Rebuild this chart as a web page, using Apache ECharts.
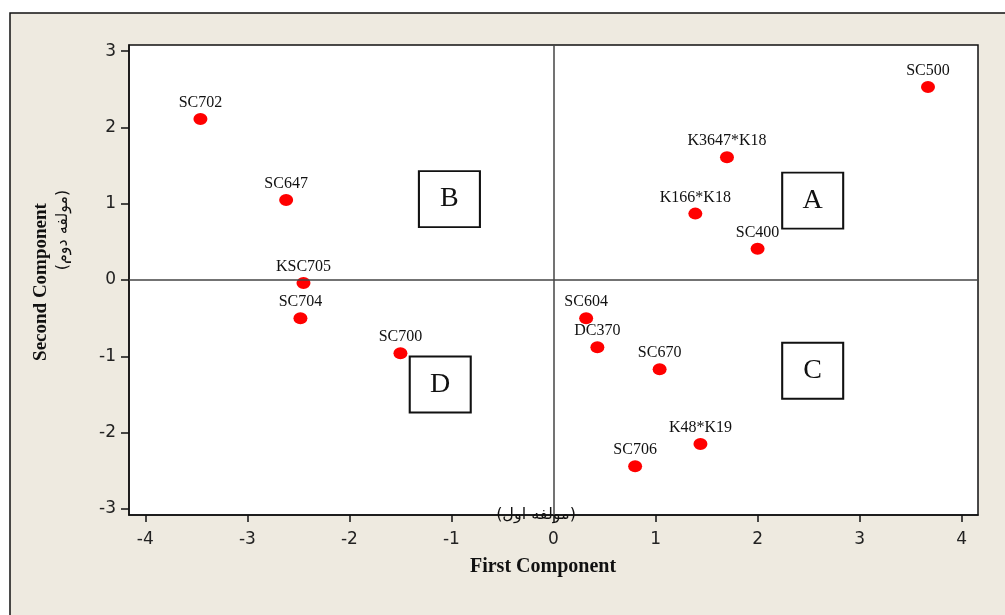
<!DOCTYPE html>
<html>
<head>
<meta charset="utf-8">
<script src="https://cdn.jsdelivr.net/npm/echarts@6/dist/echarts.min.js"></script>
<style>
  html, body { margin: 0; padding: 0; background: #ffffff; }
  #chart { width: 1005px; height: 615px; }
</style>
</head>
<body>
<div id="chart"></div>
<script>
// ---- data ----
const genotypes = ['SC500', 'K3647*K18', 'K166*K18', 'SC400', 'SC702', 'SC647', 'KSC705', 'SC704', 'SC700', 'SC604', 'DC370', 'SC670', 'K48*K19', 'SC706'];
const firstComponent = [3.67, 1.70, 1.39, 2.00, -3.46, -2.62, -2.45, -2.48, -1.50, 0.32, 0.43, 1.04, 1.44, 0.80];
const secondComponent = [2.53, 1.61, 0.87, 0.41, 2.11, 1.05, -0.04, -0.50, -0.96, -0.50, -0.88, -1.17, -2.15, -2.44];
const groupLetters = ['A', 'B', 'C', 'D'];
const groupX = [2.54, -1.02, 2.54, -1.11];
const groupY = [1.04, 1.06, -1.19, -1.37];
const xTicks = [-4, -3, -2, -1, 0, 1, 2, 3, 4];
const yTicks = [-3, -2, -1, 0, 1, 2, 3];
const xTitle = 'First Component';
const xSubTitle = '(مولفه اول)';
const yTitle = 'Second Component';
const ySubTitle = '(مولفه دوم)';

const chart = echarts.init(document.getElementById('chart'), null, { renderer: 'canvas' });

const pointData = genotypes.map((n, i) => ({ name: n, value: [firstComponent[i], secondComponent[i]] }));
const boxData = groupLetters.map((n, i) => ({ name: n, value: [groupX[i], groupY[i]] }));

const tickFont = { fontFamily: 'DejaVu Sans', fontSize: 17, color: '#222' };

const option = {
  animation: false,
  backgroundColor: '#ffffff',
  graphic: [
    {
      type: 'rect', z: -10, silent: true,
      shape: { x: 10, y: 13, width: 1010, height: 620 },
      style: { fill: '#EEEAE0', stroke: '#111', lineWidth: 1.5 }
    },
    {
      type: 'text', z: 10, silent: true, x: 543, y: 567,
      style: { text: xTitle, font: 'bold 20px "Liberation Serif"', fill: '#111', align: 'center', verticalAlign: 'middle' }
    },
    {
      type: 'text', z: 10, silent: true, x: 536, y: 515,
      style: { text: xSubTitle, font: '16px "DejaVu Sans"', fill: '#111', align: 'center', verticalAlign: 'middle' }
    },
    {
      type: 'text', z: 10, silent: true, x: 41, y: 282, rotation: Math.PI / 2,
      style: { text: yTitle, font: 'bold 19px "Liberation Serif"', fill: '#111', align: 'center', verticalAlign: 'middle' }
    },
    {
      type: 'text', z: 10, silent: true, x: 63, y: 230, rotation: Math.PI / 2,
      style: { text: ySubTitle, font: '16px "DejaVu Sans"', fill: '#111', align: 'center', verticalAlign: 'middle' }
    }
  ],
  grid: {
    left: 129, top: 45, right: 27, bottom: 100,
    show: true, backgroundColor: '#ffffff', borderColor: '#111', borderWidth: 1.5,
    containLabel: false
  },
  xAxis: {
    type: 'value', min: -4.16, max: 4.16,
    axisLine: { show: true, onZero: false, lineStyle: { color: '#111', width: 1.5 } },
    axisTick: { show: true, inside: false, length: 7, customValues: xTicks, lineStyle: { color: '#111', width: 1.5 } },
    axisLabel: Object.assign({ show: true, margin: 16, customValues: xTicks, formatter: v => String(v) }, tickFont),
    splitLine: { show: false }
  },
  yAxis: {
    type: 'value', min: -3.08, max: 3.08,
    axisLine: { show: true, onZero: false, lineStyle: { color: '#111', width: 1.5 } },
    axisTick: { show: true, inside: false, length: 8, customValues: yTicks, lineStyle: { color: '#111', width: 1.5 } },
    axisLabel: Object.assign({ show: true, margin: 13, customValues: yTicks, formatter: v => String(v) }, tickFont),
    splitLine: { show: false }
  },
  series: [
    {
      type: 'scatter', name: 'zero', data: [], silent: true,
      markLine: {
        silent: true, symbol: 'none', label: { show: false },
        lineStyle: { color: '#444', width: 1.5, type: 'solid' },
        data: [{ xAxis: 0 }, { yAxis: 0 }]
      }
    },
    {
      type: 'scatter', name: 'groups', data: boxData, z: 3,
      symbol: 'rect', symbolSize: [61, 56],
      itemStyle: { color: '#ffffff', borderColor: '#111', borderWidth: 2, opacity: 1 },
      label: { show: true, position: 'inside', formatter: p => p.name, fontFamily: 'Liberation Serif', fontSize: 28, color: '#111' }
    },
    {
      type: 'scatter', name: 'genotypes', data: pointData, z: 4,
      symbol: 'circle', symbolSize: [14, 12],
      itemStyle: { color: '#FF0000', opacity: 1 },
      label: { show: true, position: 'top', distance: 2, formatter: p => p.name, fontFamily: 'Liberation Serif', fontSize: 16, color: '#111' }
    }
  ]
};
chart.setOption(option);
</script>
</body>
</html>
